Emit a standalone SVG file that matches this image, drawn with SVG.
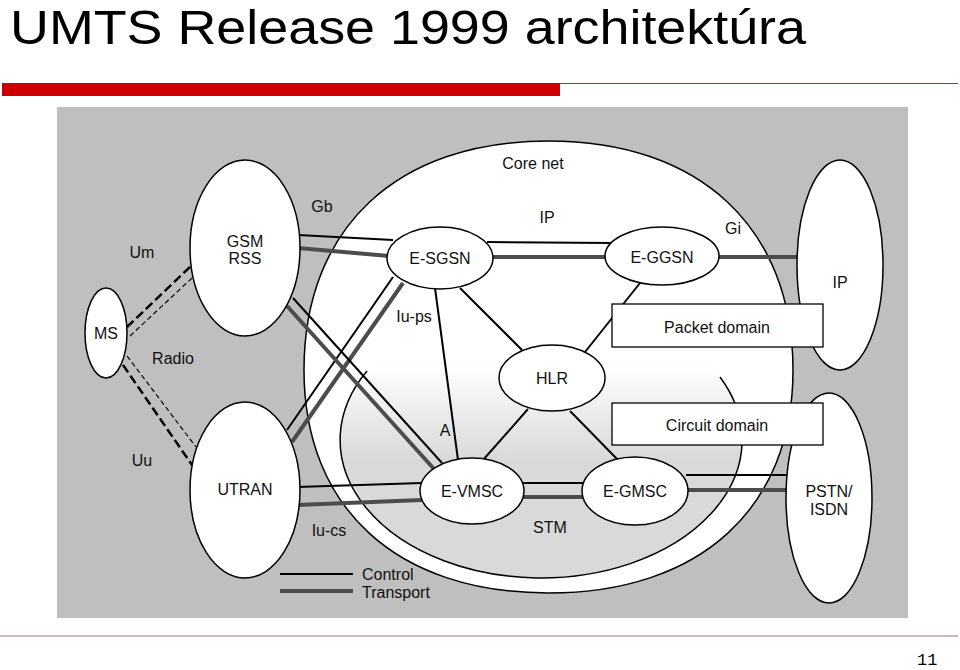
<svg xmlns="http://www.w3.org/2000/svg" width="960" height="670" viewBox="0 0 960 670">
<defs>
<linearGradient id="circG" gradientUnits="userSpaceOnUse" x1="0" y1="365" x2="0" y2="460">
<stop offset="0" stop-color="#ffffff"/>
<stop offset="1" stop-color="#d9d9d9"/>
</linearGradient>
<style>
.lbl{font-family:"Liberation Sans",Arial,sans-serif;font-size:16px;fill:#111;text-anchor:middle}
.lgd{font-family:"Liberation Sans",Arial,sans-serif;font-size:16px;fill:#111}
.node{fill:#fff;stroke:#000;stroke-width:1.5}
.box{fill:#fff;stroke:#000;stroke-width:1.3}
.ctl{stroke:#000;stroke-width:2;fill:none}
.trp{stroke:#4c4c4c;stroke-width:4;fill:none}
.dth{stroke:#000;stroke-width:2.5;stroke-dasharray:9 4;fill:none}
.dtn{stroke:#000;stroke-width:1.2;stroke-dasharray:5 3;fill:none}
</style>
</defs>
<rect width="960" height="670" fill="#fff"/>
<text x="10" y="43.5" font-family="Liberation Sans,Arial,sans-serif" font-size="48" fill="#000" textLength="796" lengthAdjust="spacingAndGlyphs">UMTS Release 1999 architektúra</text>
<rect x="2" y="83" width="558" height="13" fill="#cc0000"/>
<line x1="560" y1="83.5" x2="958" y2="83.5" stroke="#cc2020" stroke-width="1"/>
<rect x="57" y="107" width="851" height="511" fill="#bfbfbf"/>
<line x1="0" y1="636" x2="958" y2="636" stroke="#c9b9b9" stroke-width="2"/>
<text x="917" y="665" font-family="Liberation Mono,Courier New,monospace" font-size="17" fill="#000">11</text>

<g id="core-net">
<path d="M 793 370 C 793 228 700.1 141 548.5 141 C 396.9 141 304 228 304 370 C 304 508.3 396.9 593 548.5 593 C 700.1 593 793 508.3 793 370 Z" fill="#fff" stroke="#000" stroke-width="1.5"/>
<ellipse cx="541" cy="440" rx="201" ry="138" fill="url(#circG)" stroke="none"/>
<path d="M 367 371 A 201 138 0 1 0 720 377" fill="none" stroke="#000" stroke-width="1.5"/>
<text class="lbl" x="533" y="169">Core net</text>
</g>

<g id="connectors">
<path class="dth" d="M127 327 L190 267"/>
<path class="dtn" d="M130 336 L192 278"/>
<path class="dth" d="M123 365 L192 465"/>
<path class="dtn" d="M127 356 L196 447"/>
<path class="ctl" d="M298 235 L393 240"/>
<path class="trp" d="M298 248 L389 256"/>
<path class="ctl" d="M487 242 L613 243"/>
<path class="trp" d="M493 257 L607 257"/>
<path class="trp" d="M718 257 L800 257"/>
<path class="ctl" d="M393 277 L287 430"/>
<path class="trp" d="M403 283 L292 442"/>
<path class="ctl" d="M293 298 L442 463"/>
<path class="trp" d="M287 306 L434 469"/>
<path class="ctl" d="M297 487 L422 483"/>
<path class="trp" d="M297 505 L422 500"/>
<path class="ctl" d="M523 483 L585 483"/>
<path class="trp" d="M523 497 L585 497"/>
<path class="ctl" d="M686 475 L790 475"/>
<path class="trp" d="M686 490 L789 490"/>
<path class="ctl" d="M435 288 L458 460"/>
<path class="ctl" d="M460 288 L522 350"/>
<path class="ctl" d="M640 283 L585 352"/>
<path class="ctl" d="M528 409 L483 460"/>
<path class="ctl" d="M570 411 L618 460"/>
</g>

<g id="ms"><ellipse class="node" cx="106" cy="333" rx="21" ry="45"/><text class="lbl" x="106" y="339">MS</text></g>
<g id="gsm-rss"><ellipse class="node" cx="245" cy="248" rx="55" ry="88"/><text class="lbl" x="245" y="247">GSM</text><text class="lbl" x="245" y="264">RSS</text></g>
<g id="utran"><ellipse class="node" cx="245" cy="490" rx="55" ry="88"/><text class="lbl" x="245" y="495">UTRAN</text></g>
<g id="e-sgsn"><ellipse class="node" cx="440" cy="258" rx="53" ry="31"/><text class="lbl" x="440" y="264">E-SGSN</text></g>
<g id="e-ggsn"><ellipse class="node" cx="662" cy="256" rx="57" ry="29"/><text class="lbl" x="662" y="263">E-GGSN</text></g>
<g id="hlr"><ellipse class="node" cx="552" cy="378" rx="53" ry="33"/><text class="lbl" x="552" y="384">HLR</text></g>
<g id="e-vmsc"><ellipse class="node" cx="472" cy="491" rx="52" ry="33"/><text class="lbl" x="472" y="497">E-VMSC</text></g>
<g id="e-gmsc"><ellipse class="node" cx="635" cy="491" rx="53" ry="34"/><text class="lbl" x="635" y="497">E-GMSC</text></g>
<g id="ip"><ellipse class="node" cx="840" cy="265" rx="43" ry="105"/><text class="lbl" x="840" y="288">IP</text></g>
<g id="pstn-isdn"><ellipse class="node" cx="829" cy="498" rx="43" ry="105"/><text class="lbl" x="829" y="497">PSTN/</text><text class="lbl" x="829" y="515">ISDN</text></g>

<g id="packet-domain"><rect class="box" x="612" y="304" width="211" height="43"/><text class="lbl" x="717" y="333">Packet domain</text></g>
<g id="circuit-domain"><rect class="box" x="612" y="403" width="211" height="42"/><text class="lbl" x="717" y="431">Circuit domain</text></g>

<g id="labels">
<text class="lbl" x="547" y="223">IP</text>
<text class="lbl" x="322" y="212">Gb</text>
<text class="lbl" x="142" y="258">Um</text>
<text class="lbl" x="173" y="364">Radio</text>
<text class="lbl" x="142" y="466">Uu</text>
<text class="lbl" x="733" y="234">Gi</text>
<text class="lbl" x="414" y="322">Iu-ps</text>
<text class="lbl" x="445" y="436">A</text>
<text class="lbl" x="329" y="536">Iu-cs</text>
<text class="lbl" x="550" y="533">STM</text>
</g>

<g id="legend">
<line class="ctl" x1="280" y1="574" x2="353" y2="574"/>
<line class="trp" x1="280" y1="591" x2="353" y2="591"/>
<text class="lgd" x="362" y="580">Control</text>
<text class="lgd" x="362" y="598">Transport</text>
</g>
</svg>
